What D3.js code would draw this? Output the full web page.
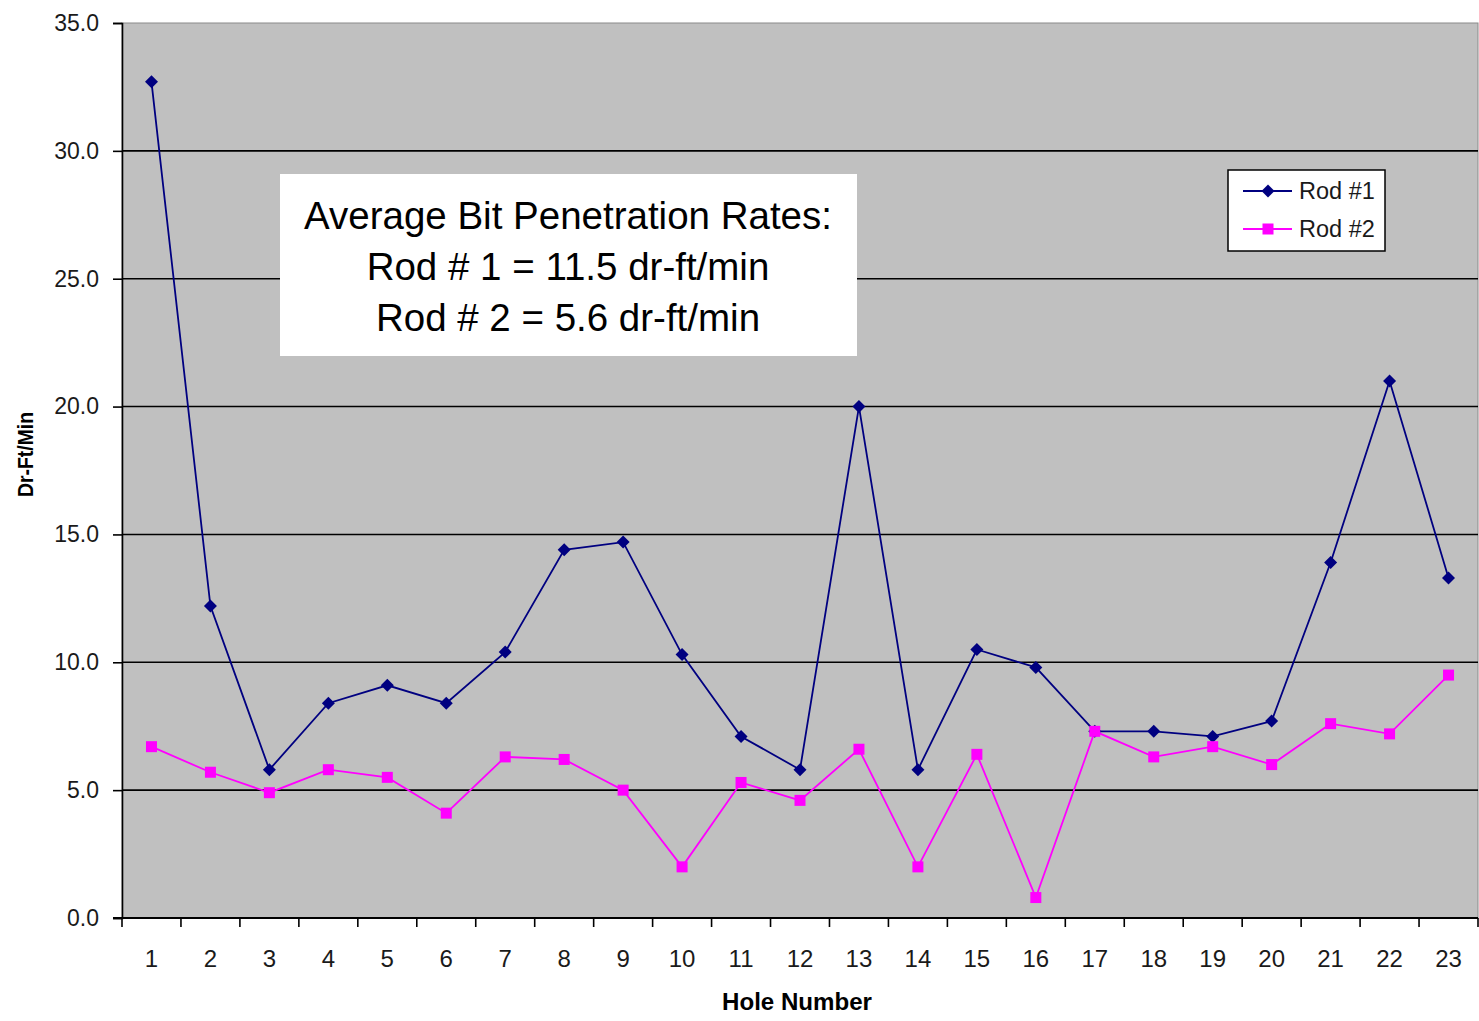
<!DOCTYPE html>
<html>
<head>
<meta charset="utf-8">
<script src="https://cdn.jsdelivr.net/npm/d3@7"></script>
<style>
  html, body { margin: 0; padding: 0; background: #fff; }
  svg { display: block; font-family: "Liberation Sans", Arial, sans-serif; }
</style>
</head>
<body>
<svg id="chart" width="1479" height="1021"></svg>
<script>
// Hole numbers along the x axis
const holes = ["1","2","3","4","5","6","7","8","9","10","11","12","13","14","15","16","17","18","19","20","21","22","23"];
// Bit penetration rates (dr-ft/min) per hole
const rod1 = [32.7, 12.2, 5.8, 8.4, 9.1, 8.4, 10.4, 14.4, 14.7, 10.3, 7.1, 5.8, 20.0, 5.8, 10.5, 9.8, 7.3, 7.3, 7.1, 7.7, 13.9, 21.0, 13.3];
const rod2 = [6.7, 5.7, 4.9, 5.8, 5.5, 4.1, 6.3, 6.2, 5.0, 2.0, 5.3, 4.6, 6.6, 2.0, 6.4, 0.8, 7.3, 6.3, 6.7, 6.0, 7.6, 7.2, 9.5];
const seriesNames = ["Rod #1", "Rod #2"];
const yTicks = [0, 5, 10, 15, 20, 25, 30, 35];
const noteLines = ["Average Bit Penetration Rates:", "Rod # 1 = 11.5 dr-ft/min", "Rod # 2 = 5.6 dr-ft/min"];

const svg = d3.select("#chart");
const plot = { left: 122, right: 1478, top: 23, bottom: 918 };

const x = d3.scaleBand().domain(holes).range([plot.left, plot.right]).padding(0);
const y = d3.scaleLinear().domain([0, 35]).range([plot.bottom, plot.top]);

// Plot area background
svg.append("rect")
  .attr("x", plot.left).attr("y", plot.top)
  .attr("width", plot.right - plot.left).attr("height", plot.bottom - plot.top)
  .attr("fill", "#c0c0c0")
  .attr("stroke", "#8a8a8a").attr("stroke-width", 1);

// Horizontal gridlines
svg.append("g").selectAll("line")
  .data(yTicks.filter(d => d > 0 && d < 35))
  .join("line")
  .attr("x1", plot.left).attr("x2", plot.right)
  .attr("y1", d => y(d)).attr("y2", d => y(d))
  .attr("stroke", "#000").attr("stroke-width", 1.6);

// Y axis
const yAxis = d3.axisLeft(y).tickValues(yTicks).tickFormat(d3.format(".1f")).tickSizeOuter(0).tickSize(9).tickPadding(14);
const yg = svg.append("g").attr("transform", `translate(${plot.left},0)`).call(yAxis);
yg.select(".domain").attr("stroke", "#000").attr("stroke-width", 1.6);
yg.selectAll(".tick line").attr("stroke", "#000").attr("stroke-width", 1.6);
yg.selectAll(".tick text").attr("font-size", 23).attr("fill", "#1a1a1a")
  .attr("font-family", "'Liberation Sans', Arial, sans-serif");

// X axis with ticks on category boundaries
const xAxisG = svg.append("g");
xAxisG.append("line")
  .attr("x1", plot.left - 9).attr("x2", plot.right)
  .attr("y1", plot.bottom).attr("y2", plot.bottom)
  .attr("stroke", "#000").attr("stroke-width", 1.8);
const boundaries = holes.map(h => x(h)).concat([x(holes[holes.length - 1]) + x.bandwidth()]);
xAxisG.selectAll("line.tk").data(boundaries).join("line").attr("class", "tk")
  .attr("x1", d => d).attr("x2", d => d)
  .attr("y1", plot.bottom).attr("y2", plot.bottom + 9)
  .attr("stroke", "#000").attr("stroke-width", 1.6);
xAxisG.selectAll("text").data(holes).join("text")
  .attr("x", d => x(d) + x.bandwidth() / 2)
  .attr("y", 967)
  .attr("text-anchor", "middle")
  .attr("font-size", 24).attr("fill", "#1a1a1a")
  .text(d => d);

// Axis titles
svg.append("text")
  .attr("x", 722).attr("y", 1010)
  .attr("font-size", 24).attr("font-weight", "bold")
  .attr("textLength", 150).attr("lengthAdjust", "spacingAndGlyphs")
  .text("Hole Number");
svg.append("text")
  .attr("transform", "translate(33,497) rotate(-90)")
  .attr("font-size", 22).attr("font-weight", "bold")
  .attr("textLength", 85).attr("lengthAdjust", "spacingAndGlyphs")
  .text("Dr-Ft/Min");

// Series lines and markers
const cx = d => x(d) + x.bandwidth() / 2;
const line = d3.line().x((d, i) => cx(holes[i])).y(d => y(d));
const colors = ["#000080", "#ff00ff"];

svg.append("path").datum(rod2).attr("d", line)
  .attr("fill", "none").attr("stroke", colors[1]).attr("stroke-width", 1.8);
svg.append("path").datum(rod1).attr("d", line)
  .attr("fill", "none").attr("stroke", colors[0]).attr("stroke-width", 1.8);

const diamondPath = "M0,-6.5L6.5,0L0,6.5L-6.5,0Z";
svg.append("g").selectAll("path").data(rod1).join("path")
  .attr("d", diamondPath)
  .attr("transform", (d, i) => `translate(${cx(holes[i])},${y(d)})`)
  .attr("fill", colors[0]);
svg.append("g").selectAll("rect").data(rod2).join("rect")
  .attr("x", (d, i) => cx(holes[i]) - 5.5).attr("y", d => y(d) - 5.5)
  .attr("width", 11).attr("height", 11)
  .attr("fill", colors[1]);

// Annotation box
const note = svg.append("g");
note.append("rect").attr("x", 280).attr("y", 174).attr("width", 577).attr("height", 182).attr("fill", "#fff");
note.selectAll("text").data(noteLines).join("text")
  .attr("x", 568).attr("y", (d, i) => 229 + i * 51)
  .attr("text-anchor", "middle").attr("font-size", 38.5).attr("fill", "#000")
  .text(d => d);

// Legend
const lg = svg.append("g");
lg.append("rect").attr("x", 1228).attr("y", 170).attr("width", 157).attr("height", 81)
  .attr("fill", "#fff").attr("stroke", "#000").attr("stroke-width", 1.5);
const rows = [191, 229];
seriesNames.forEach((name, i) => {
  lg.append("line").attr("x1", 1243).attr("x2", 1292).attr("y1", rows[i]).attr("y2", rows[i])
    .attr("stroke", colors[i]).attr("stroke-width", 1.8);
  if (i === 0) {
    lg.append("path").attr("d", diamondPath)
      .attr("transform", `translate(1268,${rows[i]})`).attr("fill", colors[i]);
  } else {
    lg.append("rect").attr("x", 1268 - 5.5).attr("y", rows[i] - 5.5).attr("width", 11).attr("height", 11)
      .attr("fill", colors[i]);
  }
  lg.append("text").attr("x", 1299).attr("y", rows[i] + 8).attr("font-size", 23.5).attr("fill", "#1a1a1a").text(name);
});
</script>
</body>
</html>
